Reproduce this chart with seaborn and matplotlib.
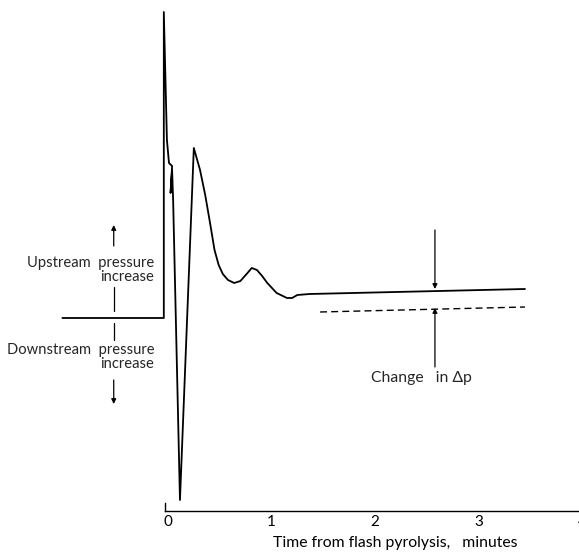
"""Pressure trace after flash pyrolysis (schematic)."""

import matplotlib

matplotlib.use("Agg")

import matplotlib.pyplot as plt
import pandas as pd
import seaborn as sns

# trace: time in minutes, pressure in arbitrary units
time_min = [-1.02, -0.04, -0.04, -0.01, 0.01, 0.04, 0.025, 0.04, 0.05, 0.116,
            0.25, 0.31, 0.36, 0.41, 0.45, 0.49, 0.53, 0.58, 0.64, 0.70,
            0.76, 0.81, 0.86, 0.91, 0.96, 1.05, 1.15, 1.20, 1.25, 1.37, 3.45]
pressure = [0.0, 0.0, 3.06, 1.78, 1.55, 1.52, 1.25, 1.48, 1.18, -1.82,
            1.70, 1.48, 1.23, 0.93, 0.68, 0.53, 0.44, 0.38, 0.35, 0.37,
            0.44, 0.50, 0.48, 0.42, 0.35, 0.25, 0.20, 0.20, 0.23, 0.24, 0.29]

# original baseline (dashed)
base_time = [1.47, 3.45]
base_pressure = [0.06, 0.11]

x_ticks = [0, 1, 2, 3, 4]
x_label = "Time from flash pyrolysis,   minutes"

trace = pd.DataFrame({"t": time_min, "p": pressure})
base = pd.DataFrame({"t": base_time, "p": base_pressure})

sns.set_theme(style="white")
plt.rcParams["font.family"] = ["Lato", "DejaVu Sans"]

fig = plt.figure(figsize=(5.79, 5.57), dpi=100)
ax = fig.add_axes([0.0, 0.0826, 1.005, 0.9174])

sns.lineplot(data=trace, x="t", y="p", sort=False, estimator=None,
             color="black", linewidth=1.3, ax=ax)
sns.lineplot(data=base, x="t", y="p", sort=False, estimator=None,
             color="black", linewidth=1.0, linestyle=(0, (5, 3)), ax=ax)

ax.set_xlim(-1.623, 4.0)
ax.set_ylim(-1.93, 3.18)

# only the bottom axis and a tiny corner at the origin
for side in ["top", "right"]:
    ax.spines[side].set_visible(False)
ax.spines["bottom"].set_bounds(-0.03, 4.0)
ax.spines["bottom"].set_color("black")
ax.spines["bottom"].set_linewidth(1.0)
ax.spines["left"].set_position(("data", -0.03))
ax.spines["left"].set_bounds(-1.93, -1.85)
ax.spines["left"].set_color("black")
ax.spines["left"].set_linewidth(1.0)

ax.set_xticks(x_ticks)
ax.set_xticklabels([str(v) for v in x_ticks])
ax.set_yticks([])
ax.tick_params(axis="x", direction="in", length=3, width=0.8, colors="black",
               labelsize=11, pad=3)
ax.set_xlabel(x_label, fontsize=11.3, color="black", labelpad=2)
ax.xaxis.set_label_coords(0.68, -0.048)
ax.set_ylabel("")

arrow = dict(arrowstyle="-|>", color="black", lw=0.9, mutation_scale=7,
             shrinkA=0, shrinkB=0)

# left-hand direction labels with broken arrows
ax.annotate("", xy=(-0.524, 0.93), xytext=(-0.524, 0.72), arrowprops=arrow)
ax.plot([-0.524, -0.524], [0.31, 0.07], color="black", lw=0.9)
ax.text(-0.13, 0.475, "Upstream  pressure\nincrease", ha="right", va="center",
        multialignment="right", fontsize=10.6, linespacing=1.0)
ax.plot([-0.524, -0.524], [-0.05, -0.22], color="black", lw=0.9)
ax.text(-0.13, -0.39, "Downstream  pressure\nincrease", ha="right", va="center",
        multialignment="right", fontsize=10.6, linespacing=1.0)
ax.annotate("", xy=(-0.524, -0.86), xytext=(-0.524, -0.62), arrowprops=arrow)

# change in pressure drop
ax.annotate("", xy=(2.58, 0.29), xytext=(2.58, 0.88), arrowprops=arrow)
ax.annotate("", xy=(2.58, 0.10), xytext=(2.58, -0.49), arrowprops=arrow)
ax.text(1.96, -0.60, "Change   in \u0394p", ha="left", va="center", fontsize=11.3)

fig.savefig("out.png", dpi=100, facecolor="white")
plt.close(fig)
